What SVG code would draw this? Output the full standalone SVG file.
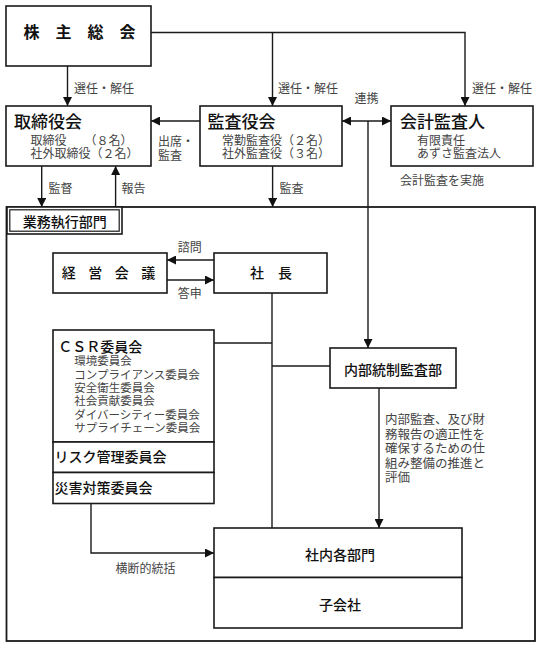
<svg xmlns="http://www.w3.org/2000/svg" width="541" height="648" viewBox="0 0 541 648">
<style>
text{font-family:"Noto Sans CJK JP","Noto Sans",sans-serif;}
.box{fill:#fff;stroke:#1a1a1a;stroke-width:1.6;}
.ttl{font-size:17px;fill:#111;font-weight:500;}
.hd{font-size:14px;fill:#111;font-weight:500;}
.sub{font-size:12px;fill:#444;}
.csr{font-size:11.5px;fill:#444;}
.lbl{font-size:12px;fill:#444;}
.note{font-size:12.5px;fill:#444;}
.ln{fill:none;stroke:#1a1a1a;stroke-width:1.4;}
.ar{marker-end:url(#ah);}
</style>
<defs>
<marker id="ah" markerUnits="userSpaceOnUse" markerWidth="9" markerHeight="9" viewBox="0 0 10 10" refX="10" refY="5" orient="auto-start-reverse"><path d="M0,0 L10,5 L0,10 z" fill="#111"/></marker>
</defs>
<rect x="0" y="0" width="541" height="648" fill="#fff"/>

<g id="connectors">
<path class="ln ar" d="M67.5,66 V106"/>
<path class="ln ar" d="M151,32.5 H465 V106"/>
<path class="ln ar" d="M272.5,32.5 V106"/>
<path class="ln ar" d="M200,121 H151"/>
<path class="ln ar" d="M342,121 H391" marker-start="url(#ah)"/>
<path class="ln ar" d="M368,121 V348"/>
<path class="ln ar" d="M41.7,166 V207"/>
<path class="ln ar" d="M115.6,207 V166"/>
<path class="ln ar" d="M272.6,166 V207"/>
<path class="ln ar" d="M214,260 H167"/>
<path class="ln ar" d="M167,280 H214"/>
<path class="ln" d="M272,293 V528"/>
<path class="ln" d="M214,343 H272"/>
<path class="ln" d="M272,366 H330"/>
<path class="ln ar" d="M379,388 V528"/>
<path class="ln ar" d="M91,503 V553 H214"/>
<text class="lbl" x="74" y="92.5">選任・解任</text>
<text class="lbl" x="278" y="92.5">選任・解任</text>
<text class="lbl" x="472" y="92.5">選任・解任</text>
<text class="lbl" x="366.5" y="102.5" text-anchor="middle">連携</text>
<text class="lbl" x="158" y="145.5">出席・</text>
<text class="lbl" x="158" y="159.5">監査</text>
<text class="lbl" x="48.6" y="192.5">監督</text>
<text class="lbl" x="121.5" y="192.5">報告</text>
<text class="lbl" x="279.5" y="192.5">監査</text>
<text class="lbl" x="400" y="185">会計監査を実施</text>
<text class="lbl" x="177.7" y="252">諮問</text>
<text class="lbl" x="177.7" y="298">答申</text>
<text class="lbl" x="115.6" y="572.5">横断的統括</text>
<text class="note" x="385" y="424">内部監査、及び財</text>
<text class="note" x="385" y="438.5">務報告の適正性を</text>
<text class="note" x="385" y="453">確保するための仕</text>
<text class="note" x="385" y="467.5">組み整備の推進と</text>
<text class="note" x="385" y="482">評価</text>
</g>

<g id="outer">
<rect x="6.5" y="207" width="528.5" height="434" fill="none" stroke="#1a1a1a" stroke-width="1.8"/>
</g>

<g id="gyomu">
<rect x="7" y="207" width="115" height="27" class="box"/>
<rect x="9.8" y="209.8" width="109.4" height="21.4" fill="none" stroke="#1a1a1a" stroke-width="1.2"/>
<text class="hd" x="22.7" y="226.5">業務執行部門</text>
</g>

<g id="kabunushi">
<rect x="6" y="6" width="145" height="60" class="box"/>
<text x="23.6" y="38" style="font-size:16px;font-weight:bold;fill:#111;letter-spacing:16px">株主総会</text>
</g>

<g id="torishimariyaku">
<rect x="6" y="106" width="145" height="60" class="box"/>
<text class="ttl" x="14" y="127.5">取締役会</text>
<text class="sub" x="30.5" y="144.5">取締役　　（８名）</text>
<text class="sub" x="30.5" y="158">社外取締役（２名）</text>
</g>

<g id="kansayaku">
<rect x="200" y="106" width="142" height="60" class="box"/>
<text class="ttl" x="207.6" y="127.5">監査役会</text>
<text class="sub" x="222" y="144.5">常勤監査役（２名）</text>
<text class="sub" x="222" y="158">社外監査役（３名）</text>
</g>

<g id="kaikei">
<rect x="391" y="106" width="142" height="60" class="box"/>
<text class="ttl" x="400" y="127.5">会計監査人</text>
<text class="sub" x="417" y="144.5">有限責任</text>
<text class="sub" x="417" y="158">あずさ監査法人</text>
</g>

<g id="keiei">
<rect x="53" y="253" width="114" height="40" class="box"/>
<text class="hd" x="61.7" y="278" style="letter-spacing:12.5px">経営会議</text>
</g>

<g id="shacho">
<rect x="214" y="253" width="113" height="40" class="box"/>
<text class="hd" x="250" y="278" style="letter-spacing:14px">社長</text>
</g>

<g id="iinkai">
<rect x="53" y="330" width="161" height="112" class="box"/>
<rect x="53" y="442" width="161" height="30.5" class="box"/>
<rect x="53" y="472.5" width="161" height="31" class="box"/>
<text class="hd" x="58.3" y="351.5">ＣＳＲ委員会</text>
<text class="csr" x="74.3" y="365.3">環境委員会</text>
<text class="csr" x="74.3" y="378.7">コンプライアンス委員会</text>
<text class="csr" x="74.3" y="392">安全衛生委員会</text>
<text class="csr" x="74.3" y="405.3">社会貢献委員会</text>
<text class="csr" x="74.3" y="418.7">ダイバーシティー委員会</text>
<text class="csr" x="74.3" y="432">サプライチェーン委員会</text>
<text class="hd" x="54.5" y="461.5">リスク管理委員会</text>
<text class="hd" x="54.5" y="493">災害対策委員会</text>
</g>

<g id="naibu">
<rect x="330" y="348" width="126" height="40" class="box"/>
<text class="hd" x="393" y="375" text-anchor="middle">内部統制監査部</text>
</g>

<g id="shanai">
<rect x="214" y="528" width="248" height="49.5" class="box"/>
<rect x="214" y="577.5" width="248" height="50.5" class="box"/>
<text class="hd" x="340" y="559.5" text-anchor="middle">社内各部門</text>
<text class="hd" x="340" y="609.5" text-anchor="middle">子会社</text>
</g>
</svg>
